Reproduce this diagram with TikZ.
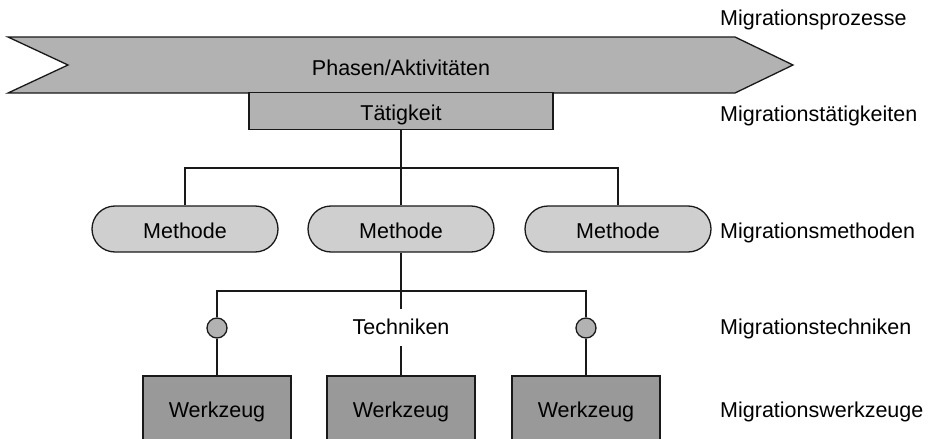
\documentclass[tikz,border=0pt]{standalone}
\usepackage{fontspec}
\setmainfont{Liberation Sans}
\begin{document}
\begin{tikzpicture}[x=1pt,y=-1pt,
  every node/.style={font=\fontsize{21.5}{24}\selectfont, text height=20pt, text depth=2pt, inner sep=0pt},
  line/.style={draw=black!90, line width=1.3pt},
  phase/.style={line, fill=black!30},
  taetig/.style={line, fill=black!30, rectangle, minimum width=304pt, minimum height=37pt},
  methode/.style={line, fill=black!19, rectangle, rounded corners=23pt, minimum width=186pt, minimum height=46pt},
  werkzeug/.style={line, fill=black!40, rectangle, minimum width=148pt, minimum height=64pt},
  knoten/.style={line, fill=black!30, circle, minimum size=20pt, text height=0pt, text depth=0pt},
  ebene/.style={anchor=base west, text height=, text depth=}
]
\useasboundingbox (0,0) rectangle (930,439);
\clip (0,0) rectangle (930,439);

% process banner
\draw[phase] (8,37) -- (735,37) -- (793,65) -- (735,93) -- (8,93) -- (68,65) -- cycle;
\node[anchor=base, text height=, text depth=] (phasen) at (401,75) {Phasen/Aktivitäten};

% activity
\node[taetig] (tat) at (401,111) {Tätigkeit};

% methods
\node[methode] (m1) at (185,229) {Methode};
\node[methode] (m2) at (401,229) {Methode};
\node[methode] (m3) at (618,229) {Methode};

% techniques
\node[knoten] (k1) at (217,328) {};
\node[knoten] (k2) at (586,328) {};
\node[minimum height=37pt, text height=15.5pt, text depth=2.5pt] (tech) at (401,327.5) {Techniken};

% tools
\node[werkzeug] (w1) at (217,408) {Werkzeug};
\node[werkzeug] (w2) at (401,408) {Werkzeug};
\node[werkzeug] (w3) at (586,408) {Werkzeug};

% junctions
\coordinate (j1) at (401,168);
\coordinate (j2) at (401,291);

% connectors
\draw[line] (tat.south) -- (m2.north);
\draw[line] (m1.north) |- (j1) -| (m3.north);
\draw[line] (m2.south) -- (tech.north);
\draw[line] (k1.north) |- (j2) -| (k2.north);
\draw[line] (tech.south) -- (w2.north);
\draw[line] (k1.south) -- (w1.north);
\draw[line] (k2.south) -- (w3.north);

% level labels
\node[ebene] (l1) at (720,25.5) {Migrationsprozesse};
\node[ebene] (l2) at (720,121) {Migrationstätigkeiten};
\node[ebene] (l3) at (720,238) {Migrationsmethoden};
\node[ebene] (l4) at (720,334) {Migrationstechniken};
\node[ebene] (l5) at (720,417) {Migrationswerkzeuge};
\end{tikzpicture}
\end{document}
